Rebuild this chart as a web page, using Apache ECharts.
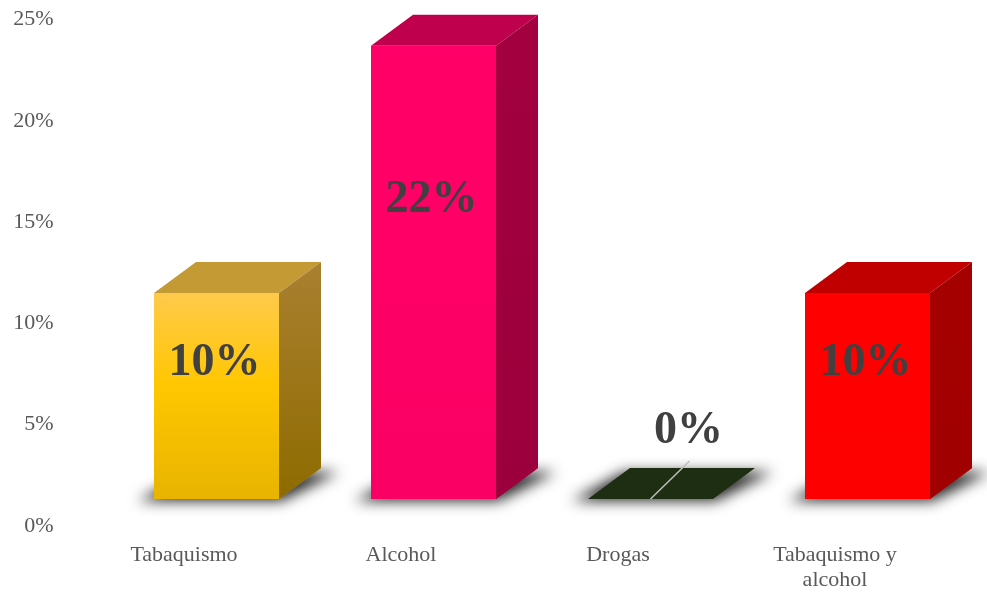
<!DOCTYPE html>
<html>
<head>
<meta charset="utf-8">
<script src="https://cdn.jsdelivr.net/npm/echarts@6/dist/echarts.min.js"></script>
<style>
  html, body { margin: 0; padding: 0; background: #ffffff; }
  #chart { width: 987px; height: 594px; }
</style>
</head>
<body>
<div id="chart"></div>
<script>
// Data
const categories = ['Tabaquismo', 'Alcohol', 'Drogas', 'Tabaquismo y\nalcohol'];
const values = [10, 22, 0, 10];          // percent
const yTicks = { min: 0, max: 25, step: 5 };

// Face colours of each 3D column
const frontTop    = ['#FFCA4C', '#FF0068', '#1E2E12', '#FF0000'];
const frontMid    = ['#FFC700', '#FF0066', '#1E2E12', '#FF0000'];
const frontBottom = ['#E8B400', '#FA0064', '#1E2E12', '#FC0000'];
const topFace     = ['#C49A35', '#BF004D', '#1E2E12', '#C00000'];
const sideTop     = ['#A98030', '#A3003F', '#1E2E12', '#A60000'];
const sideBottom  = ['#8E6B00', '#9C003C', '#1E2E12', '#A00000'];

const FONT = '"Liberation Serif", "Times New Roman", serif';
const DEPTH_X = 42, DEPTH_Y = -31, FACE_W = 125, SHIFT_X = 32.5;
const FAR = 3000; // the shadow caster is drawn off-screen so only its blur shows

function grad(a, b, c) {
  return new echarts.graphic.LinearGradient(0, 0, 0, 1, c ?
    [{ offset: 0, color: a }, { offset: 0.45, color: b }, { offset: 1, color: c }] :
    [{ offset: 0, color: a }, { offset: 1, color: b }]);
}

function renderColumn(params, api) {
  const i = api.value(0);
  const v = api.value(1);
  const base = api.coord([i, 0]);
  const top = api.coord([i, v]);
  const cx = base[0] + SHIFT_X;
  const fl = cx - FACE_W / 2, fr = cx + FACE_W / 2;
  const yb = base[1], yt = top[1];
  const children = [];

  // soft floor shadow
  const sb = yb + 2, sk = yb + DEPTH_Y + 4;
  children.push({
    type: 'polygon',
    shape: { points: [
      [fl - 16 + FAR, sb], [fr + 2 + FAR, sb],
      [fr + DEPTH_X + 18 + FAR, sk], [fl + DEPTH_X - 6 + FAR, sk]
    ] },
    style: {
      fill: '#000',
      shadowBlur: 14,
      shadowColor: 'rgba(0,0,0,0.85)',
      shadowOffsetX: -FAR,
      shadowOffsetY: 0
    }
  });

  // footprint
  children.push({
    type: 'polygon',
    shape: { points: [[fl, yb], [fr, yb], [fr + DEPTH_X, yb + DEPTH_Y], [fl + DEPTH_X, yb + DEPTH_Y]] },
    style: { fill: topFace[i] }
  });

  if (v > 0) {
    // front face
    children.push({
      type: 'rect',
      shape: { x: fl, y: yt, width: FACE_W, height: yb - yt },
      style: { fill: grad(frontTop[i], frontMid[i], frontBottom[i]) }
    });
    // top face
    children.push({
      type: 'polygon',
      shape: { points: [[fl, yt], [fr, yt], [fr + DEPTH_X, yt + DEPTH_Y], [fl + DEPTH_X, yt + DEPTH_Y]] },
      style: { fill: topFace[i] }
    });
    // right side face
    children.push({
      type: 'polygon',
      shape: { points: [[fr, yt], [fr + DEPTH_X, yt + DEPTH_Y], [fr + DEPTH_X, yb + DEPTH_Y], [fr, yb]] },
      style: { fill: grad(sideTop[i], sideBottom[i]) }
    });
    children.push({
      type: 'text',
      style: {
        text: v + '%',
        x: cx - 2,
        y: yb - 0.66 * (yb - yt),
        align: 'center',
        verticalAlign: 'middle',
        fontFamily: FONT,
        fontWeight: 'bold',
        fontSize: 46,
        fill: '#404040'
      }
    });
  } else {
    // label of an empty column sits above it with a leader line
    children.push({
      type: 'line',
      shape: { x1: cx, y1: yb, x2: cx + 39, y2: yb - 38 },
      style: { stroke: '#BFBFBF', lineWidth: 1.5 }
    });
    children.push({
      type: 'text',
      style: {
        text: v + '%',
        x: cx + 38,
        y: yb - 68,
        align: 'center',
        verticalAlign: 'middle',
        fontFamily: FONT,
        fontWeight: 'bold',
        fontSize: 46,
        fill: '#404040'
      }
    });
  }
  return { type: 'group', children: children };
}

const chart = echarts.init(document.getElementById('chart'), null, { renderer: 'canvas' });
chart.setOption({
  backgroundColor: '#ffffff',
  animation: false,
  grid: [
    { left: 75.5, right: 43.5, top: 19.5, bottom: 68 },
    { left: 75.5, right: 43.5, top: 4.6, bottom: 95 }
  ],
  xAxis: [
    {
      type: 'category', gridIndex: 0, data: categories,
      axisLine: { show: false }, axisTick: { show: false },
      axisLabel: {
        interval: 0, margin: 17, color: '#595959',
        fontFamily: FONT, fontSize: 22, lineHeight: 25
      }
    },
    { type: 'category', gridIndex: 1, data: categories, show: false }
  ],
  yAxis: [
    {
      type: 'value', gridIndex: 0,
      min: yTicks.min, max: yTicks.max, interval: yTicks.step,
      axisLine: { show: false }, axisTick: { show: false }, splitLine: { show: false },
      axisLabel: {
        formatter: '{value}%', margin: 22, color: '#595959',
        fontFamily: FONT, fontSize: 22
      }
    },
    { type: 'value', gridIndex: 1, min: 0, max: 24, show: false, splitLine: { show: false } }
  ],
  series: [{
    type: 'custom',
    xAxisIndex: 1,
    yAxisIndex: 1,
    renderItem: renderColumn,
    encode: { x: 0, y: 1 },
    data: values.map((v, i) => [i, v])
  }]
});
</script>
</body>
</html>
